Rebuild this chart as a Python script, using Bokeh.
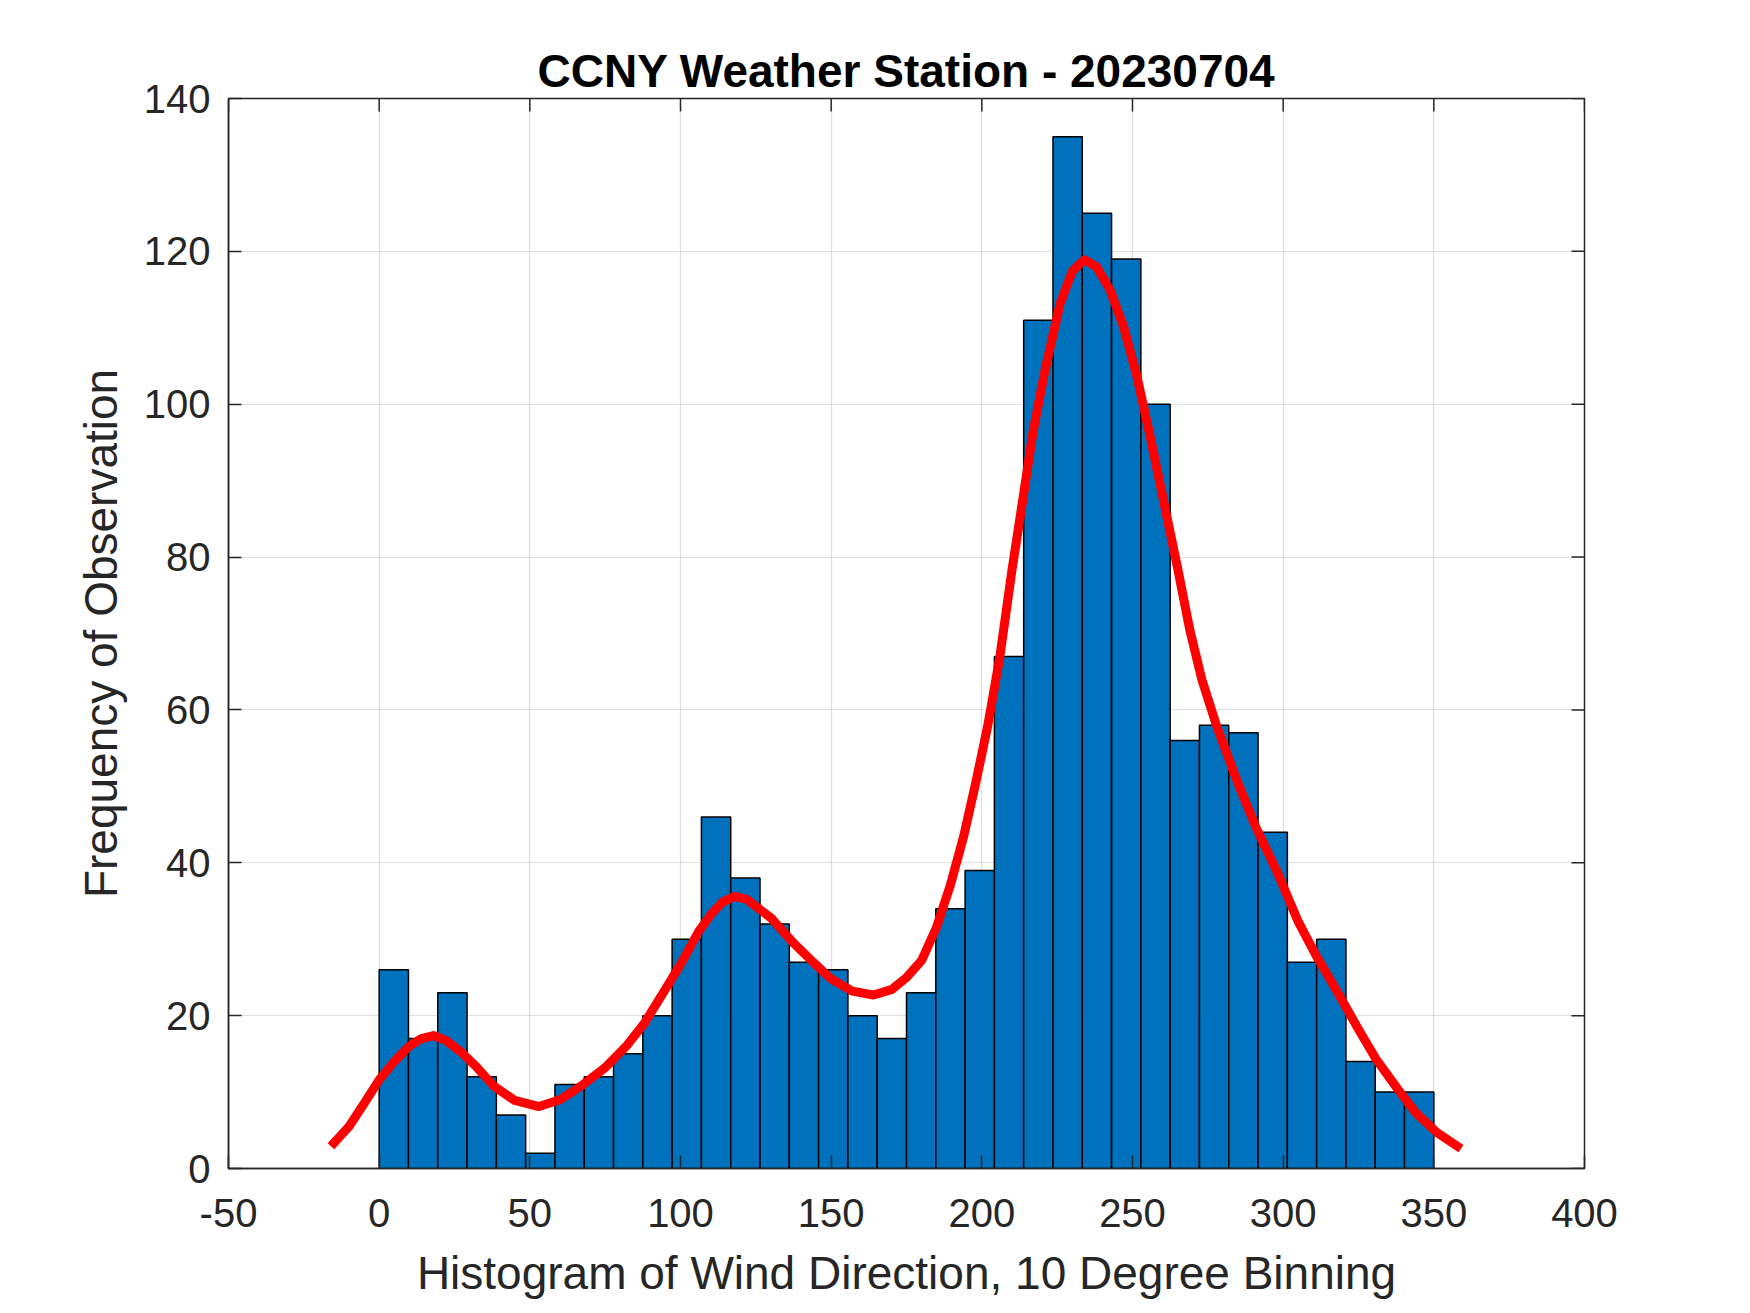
import numpy as np
from bokeh.plotting import figure
from bokeh.models import FixedTicker, Range1d, ColumnDataSource
from bokeh.embed import file_html
from bokeh.resources import INLINE

# histogram counts, 36 bins spanning 0..350 degrees
counts = [26, 17, 23, 12, 7, 2, 11, 12, 15, 20, 30, 46, 38, 32, 27, 26, 20, 17,
          23, 34, 39, 67, 111, 135, 125, 119, 100, 56, 58, 57, 44, 27, 30, 14, 10, 10]
bin_lo, bin_hi = 0, 350

# red smoothed fit
fit_x = [-16, -10, -5, 0, 5, 10, 14, 18, 22, 27, 32, 38, 45, 53, 60, 67, 75, 82,
         88, 94, 100, 106, 110, 114, 118, 122, 126, 130, 137, 144, 150, 157, 164,
         170, 175, 180, 185, 189.5, 194, 198, 202, 206, 210, 213, 217, 221, 226,
         230, 234, 238, 242.5, 247, 251.5, 256, 260.5, 265, 269, 273, 278, 285,
         291, 298, 305, 311, 318, 325, 331, 338, 344, 351, 359]
fit_y = [2.9, 5.5, 8.5, 11.6, 14.0, 16.0, 17.0, 17.4, 16.8, 15.3, 13.4, 10.8, 8.9,
         8.1, 9.0, 10.8, 13.2, 16.0, 19.0, 22.8, 26.7, 31.0, 33.2, 34.9, 35.6,
         35.2, 34.0, 32.8, 29.7, 27.0, 24.8, 23.2, 22.7, 23.4, 25.0, 27.2, 31.6,
         37.0, 43.5, 50.5, 58.0, 67.0, 78.3, 86.0, 96.4, 104.5, 113.2, 117.4,
         118.9, 118.0, 115.0, 110.2, 103.6, 95.5, 87.0, 78.5, 70.5, 64.0, 57.8,
         50.4, 44.6, 38.8, 32.3, 27.8, 23.1, 18.2, 14.2, 10.4, 7.3, 4.7, 2.6]

x_ticks = [-50, 0, 50, 100, 150, 200, 250, 300, 350, 400]
y_ticks = [0, 20, 40, 60, 80, 100, 120, 140]
x_lo, x_hi = -50, 400
y_lo, y_hi = 0, 140

edges = np.linspace(bin_lo, bin_hi, len(counts) + 1)
bars = ColumnDataSource(dict(left=edges[:-1], right=edges[1:], top=counts,
                             bottom=[0] * len(counts)))

FONT = "Liberation Sans"
AX = "#262626"

p = figure(frame_width=1356, frame_height=1070,
           x_range=Range1d(x_lo, x_hi), y_range=Range1d(y_lo, y_hi),
           output_backend="svg", toolbar_location=None,
           min_border_left=228, min_border_right=150,
           min_border_top=98, min_border_bottom=120,
           title="CCNY Weather Station - 20230704")

p.title.align = "center"
p.title.text_font = FONT
p.title.text_font_size = "46px"
p.title.text_font_style = "bold"
p.title.text_color = "black"
p.title.standoff = 4

p.quad(left="left", right="right", top="top", bottom="bottom", source=bars,
       fill_color="#0072BD", line_color="black", line_width=1.5)
p.line(fit_x, fit_y, line_color="#FF0000", line_width=9, line_join="round",
       line_cap="butt")

# box on: inward ticks along the top and right edges (clipped to the frame)
p.scatter(x=x_ticks, y=[y_hi] * len(x_ticks), marker="dash", angle=np.pi / 2,
          size=26, line_color=AX, line_width=1.5)
p.scatter(x=[x_hi] * len(y_ticks), y=y_ticks, marker="dash", angle=0,
          size=26, line_color=AX, line_width=1.5)

p.outline_line_color = AX
p.outline_line_width = 1.5

p.xaxis.ticker = FixedTicker(ticks=x_ticks)
p.yaxis.ticker = FixedTicker(ticks=y_ticks)
p.xaxis.major_label_overrides = {t: str(t) for t in x_ticks}
p.xaxis.axis_label = "Histogram of Wind Direction, 10 Degree Binning"
p.yaxis.axis_label = "Frequency of Observation"

for ax in (p.xaxis[0], p.yaxis[0]):
    ax.axis_line_color = AX
    ax.axis_line_width = 1.5
    ax.major_tick_line_color = AX
    ax.major_tick_line_width = 1.5
    ax.major_tick_in = 13
    ax.major_tick_out = 0
    ax.minor_tick_line_color = None
    ax.major_label_text_font = FONT
    ax.major_label_text_font_size = "40px"
    ax.major_label_text_color = AX
    ax.axis_label_text_font = FONT
    ax.axis_label_text_font_size = "46px"
    ax.axis_label_text_font_style = "normal"
    ax.axis_label_text_color = AX

p.xaxis.major_label_standoff = 30
p.xaxis.axis_label_standoff = 17
p.yaxis.major_label_standoff = 18
p.yaxis.axis_label_standoff = 14

p.xgrid.ticker = FixedTicker(ticks=x_ticks)
p.ygrid.ticker = FixedTicker(ticks=y_ticks)
p.grid.grid_line_color = "#262626"
p.grid.grid_line_alpha = 0.15
p.grid.grid_line_width = 1.2

open("out.html", "w").write(file_html(p, INLINE))
